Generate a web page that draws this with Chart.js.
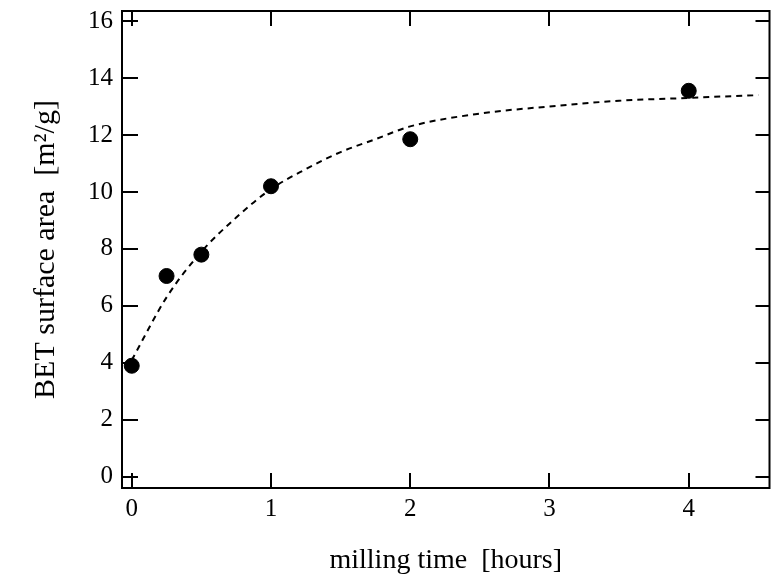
<!DOCTYPE html>
<html><head><meta charset="utf-8">
<script src="https://cdn.jsdelivr.net/npm/chart.js@4/dist/chart.umd.min.js"></script>
<style>html,body{margin:0;padding:0;background:#fff}#wrap{width:778px;height:577px}</style>
</head><body><div id="wrap"><canvas id="c" width="778" height="577"></canvas></div>
<script>
const millingHours = [0, 0.25, 0.5, 1, 2, 4];
const betArea = [3.9, 7.05, 7.8, 10.2, 11.85, 13.55];
const fitHours = [0, 0.25, 0.5, 0.75, 1, 1.25, 1.5, 1.75, 2, 2.5, 3, 3.5, 4, 4.5];
const fitArea = [4.1, 6.3, 7.9, 9.1, 10.1, 10.8, 11.4, 11.85, 12.3, 12.75, 13.0, 13.2, 13.3, 13.4];
const xTicks = [0, 1, 2, 3, 4];
const yTicks = [0, 2, 4, 6, 8, 10, 12, 14, 16];

const FONT = '"Liberation Serif", "DejaVu Serif", serif';

const frameTicks = {
  id: 'frameTicks',
  afterDraw(chart) {
    const {ctx, chartArea: a, scales} = chart;
    ctx.save();
    ctx.strokeStyle = '#000';
    ctx.lineWidth = 2;
    ctx.strokeRect(a.left, a.top, a.right - a.left, a.bottom - a.top);
    ctx.beginPath();
    xTicks.forEach(v => {
      const px = Math.round(scales.x.getPixelForValue(v));
      ctx.moveTo(px, a.bottom); ctx.lineTo(px, a.bottom - 15);
      ctx.moveTo(px, a.top); ctx.lineTo(px, a.top + 15);
    });
    yTicks.forEach(v => {
      const py = Math.round(scales.y.getPixelForValue(v));
      ctx.moveTo(a.left, py); ctx.lineTo(a.left + 16, py);
      ctx.moveTo(a.right, py); ctx.lineTo(a.right - 14, py);
    });
    ctx.stroke();
    ctx.restore();
  }
};

new Chart(document.getElementById('c'), {
  type: 'scatter',
  data: {
    datasets: [
      {
        data: fitHours.map((x, i) => ({x, y: fitArea[i]})),
        showLine: true,
        borderColor: '#000',
        borderWidth: 2,
        borderDash: [6, 5],
        pointRadius: 0,
        cubicInterpolationMode: 'monotone',
        fill: false
      },
      {
        data: millingHours.map((x, i) => ({x, y: betArea[i]})),
        showLine: false,
        pointRadius: 7.5,
        pointBackgroundColor: '#000',
        pointBorderColor: '#000'
      }
    ]
  },
  options: {
    responsive: false,
    animation: false,
    layout: {padding: {top: 11, right: 4, left: 0, bottom: 0}},
    plugins: {legend: {display: false}, tooltip: {enabled: false}},
    scales: {
      x: {
        type: 'linear', min: -0.07, max: 4.58,
        afterBuildTicks: s => { s.ticks = xTicks.map(v => ({value: v})); },
        afterFit: s => { s.height = 89; },
        grid: {display: false, drawTicks: false},
        border: {display: false},
        ticks: {color: '#000', font: {family: FONT, size: 25}, padding: 6, maxRotation: 0},
        title: {display: true, text: 'milling time  [hours]', color: '#000', font: {family: FONT, size: 28}, padding: {top: 17, bottom: 0}}
      },
      y: {
        type: 'linear', min: -0.39, max: 16.35,
        afterBuildTicks: s => { s.ticks = yTicks.map(v => ({value: v})); },
        afterFit: s => { s.width = 122; },
        grid: {display: false, drawTicks: false},
        border: {display: false},
        ticks: {color: '#000', font: {family: FONT, size: 25, lineHeight: 0.1}, padding: 9},
        title: {display: true, text: 'BET surface area  [m²/g]', color: '#000', font: {family: FONT, size: 30}, padding: {top: 28, bottom: 0}}
      }
    }
  },
  plugins: [frameTicks]
});
</script></body></html>
